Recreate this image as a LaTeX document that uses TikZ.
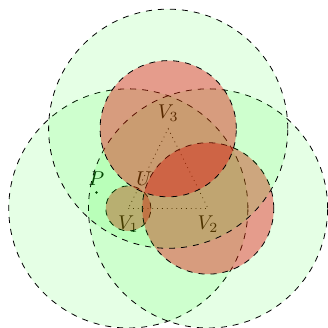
\documentclass[tikz,border=0pt]{standalone}
\usetikzlibrary{positioning}

\begin{document}
\begin{tikzpicture}[scale=0.7,
   bigdisc/.style={draw=black, dashed, fill=green, fill opacity=0.1},
   smalldisc/.style={draw=black, dashed, fill=red!90!black, fill opacity=0.39},
   lbl/.style={inner sep=3.33pt}]
\useasboundingbox (-3.22,-3.0) rectangle (5.0,5.23);

\coordinate (V1) at (0,0);
\coordinate (V2) at (2,0);
\coordinate (V3) at (1,2);
\coordinate (U)  at (0.4,0.4);
\coordinate (P)  at (-0.8,0.4);

% points, labels and triangle first
\draw[dotted] (V1) -- (V2) -- (V3) -- cycle;
\fill (P) circle (1pt);
\node[lbl, above] (labP)  at (P)  {$P$};
\node[lbl, above] (labU)  at (U)  {$U$};
\node[lbl, below] (labV1) at (V1) {$V_1$};
\node[lbl, below] (labV2) at (V2) {$V_2$};
\node[lbl, above] (labV3) at (V3) {$V_3$};

% large disc, then the disc through U, for each vertex
\foreach \v/\r in {V1/0.566, V2/1.649, V3/1.709} {
  \path[bigdisc] (\v) circle (3);
  \path[smalldisc] (\v) circle (\r);
}
\end{tikzpicture}
\end{document}
